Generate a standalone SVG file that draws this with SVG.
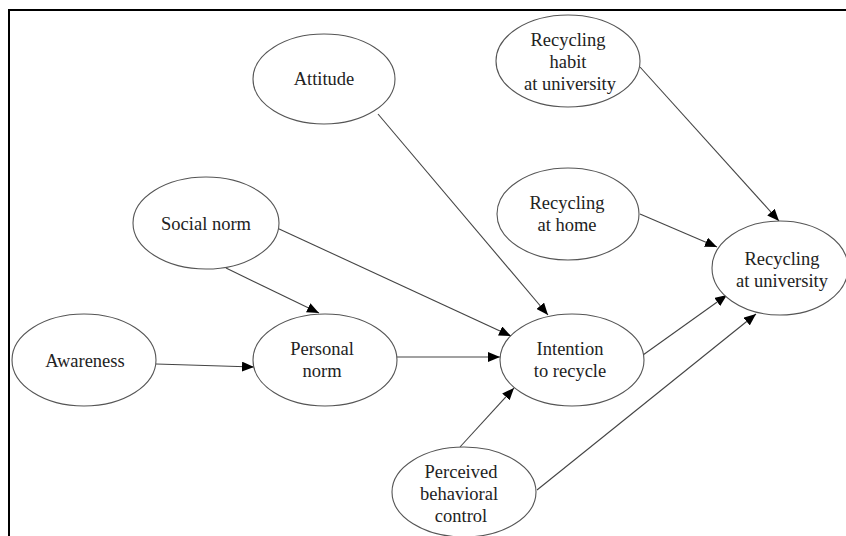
<svg xmlns="http://www.w3.org/2000/svg" width="846" height="536" viewBox="0 0 846 536">
<style>
.n ellipse{fill:#fff;stroke:#555;stroke-width:1.1}
.n text{font-family:"Liberation Serif",serif;font-size:18.5px;fill:#222;text-anchor:middle}
.c line{stroke:#444;stroke-width:1.1;marker-end:url(#ah)}
</style>
<defs>
<marker id="ah" viewBox="0 0 12 10" refX="12" refY="5" markerWidth="12" markerHeight="10" markerUnits="userSpaceOnUse" orient="auto">
<path d="M0,0 L12,5 L0,10 z" fill="#000"/>
</marker>
</defs>
<rect width="846" height="536" fill="#fff"/>
<path d="M9,536 V10 H846" fill="none" stroke="#000" stroke-width="2"/>
<g class="c">
<line x1="378" y1="114" x2="548" y2="315"/>
<line x1="640" y1="67" x2="779" y2="221"/>
<line x1="640" y1="214" x2="717" y2="247"/>
<line x1="277" y1="228" x2="511" y2="336"/>
<line x1="226" y1="268" x2="319" y2="313"/>
<line x1="156" y1="364" x2="254" y2="367"/>
<line x1="397" y1="357" x2="500" y2="357"/>
<line x1="643" y1="355" x2="727" y2="295"/>
<line x1="460" y1="447" x2="514" y2="388"/>
<line x1="537" y1="490" x2="756" y2="314"/>
</g>
<g id="attitude" class="n"><ellipse cx="324" cy="79" rx="71" ry="45"/><text x="324" y="85">Attitude</text></g>
<g id="habit" class="n"><ellipse cx="568" cy="61" rx="72" ry="46"/><text x="568" y="46">Recycling</text><text x="568" y="68">habit</text><text x="570" y="90">at university</text></g>
<g id="home" class="n"><ellipse cx="568" cy="214" rx="71" ry="46"/><text x="567" y="209">Recycling</text><text x="567" y="231">at home</text></g>
<g id="social" class="n"><ellipse cx="206" cy="223" rx="73" ry="46"/><text x="206" y="230">Social norm</text></g>
<g id="recuni" class="n"><ellipse cx="780" cy="268" rx="68" ry="47"/><text x="782" y="265">Recycling</text><text x="782" y="287">at university</text></g>
<g id="awareness" class="n"><ellipse cx="84" cy="360" rx="72" ry="46"/><text x="85" y="367">Awareness</text></g>
<g id="personal" class="n"><ellipse cx="325" cy="360" rx="72" ry="46"/><text x="322" y="355">Personal</text><text x="322" y="377">norm</text></g>
<g id="intention" class="n"><ellipse cx="572" cy="360" rx="72" ry="46"/><text x="570" y="355">Intention</text><text x="570" y="377">to recycle</text></g>
<g id="pbc" class="n"><ellipse cx="464" cy="492" rx="72" ry="45"/><text x="461" y="478">Perceived</text><text x="459" y="500">behavioral</text><text x="461" y="522">control</text></g>
</svg>
